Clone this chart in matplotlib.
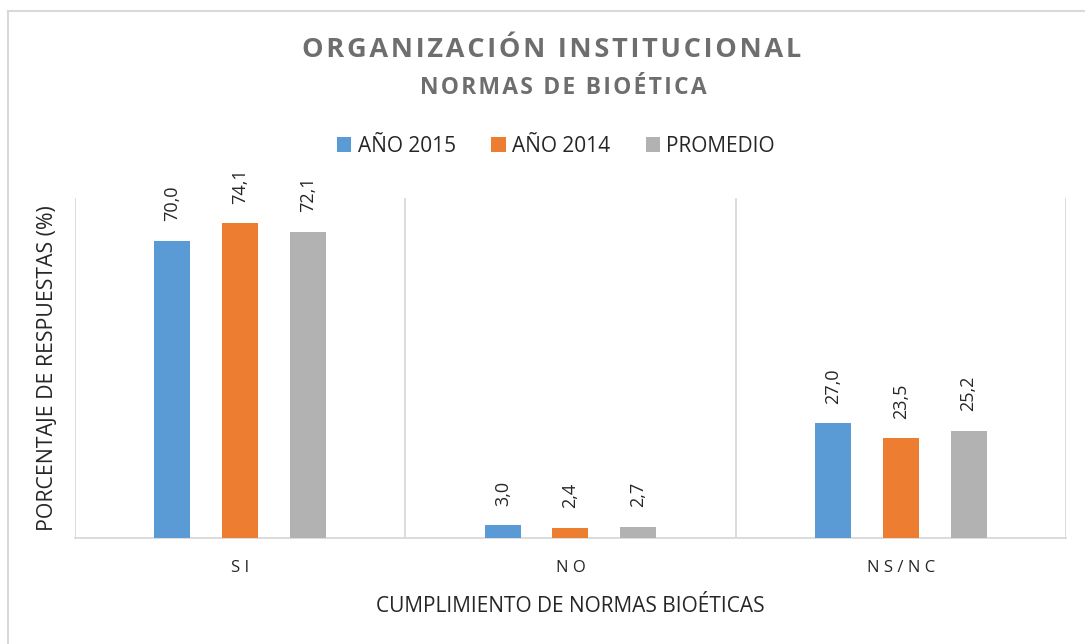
import numpy as np
import matplotlib
matplotlib.use('Agg')
import matplotlib.pyplot as plt
from matplotlib.lines import Line2D

plt.rcParams['font.family'] = ['Open Sans', 'DejaVu Sans']

categories = ['SI', 'NO', 'NS/NC']
series = ['AÑO 2015', 'AÑO 2014', 'PROMEDIO']
values_2015 = [70.0, 3.0, 27.0]
values_2014 = [74.1, 2.4, 23.5]
values_prom = [72.1, 2.7, 25.2]
colors = ['#5B9BD5', '#ED7D31', '#B2B2B2']

title1 = 'ORGANIZACIÓN INSTITUCIONAL'
title2 = 'NORMAS DE BIOÉTICA'
xlabel = 'CUMPLIMIENTO DE NORMAS BIOÉTICAS'
ylabel = 'PORCENTAJE DE RESPUESTAS (%)'


def spaced(s, sep='\u200a'):
    return sep.join(s)


fig = plt.figure(figsize=(10.85, 6.44), dpi=100)
ax = fig.add_axes([0.0691, 0.1646, 0.9134, 0.5279])

x = np.arange(len(categories))
width = 0.109
offsets = [-0.205, 0, 0.205]
all_vals = [values_2015, values_2014, values_prom]
for vals, off, col, name in zip(all_vals, offsets, colors, series):
    bars = ax.bar(x + off, vals, width, color=col, label=name, zorder=3)
    for b, v in zip(bars, vals):
        ax.annotate(f'{v:.1f}'.replace('.', ','),
                    (b.get_x() + b.get_width() / 2, b.get_height()),
                    xytext=(0, 14), textcoords='offset points',
                    rotation=90, ha='center', va='bottom',
                    fontsize=13, color='#262626')

ax.set_xlim(-0.5, 2.5)
ax.set_ylim(0, 80)
for xv in [-0.5, 0.5, 1.5, 2.5]:
    ax.axvline(xv, color='#D9D9D9', lw=1.3, zorder=1)
for s in ['top', 'right', 'left']:
    ax.spines[s].set_visible(False)
ax.spines['bottom'].set_color('#D9D9D9')
ax.spines['bottom'].set_linewidth(1.3)
ax.set_yticks([])
ax.set_xticks(x)
ax.set_xticklabels([spaced(c, ' ') for c in categories], fontsize=12, color='#262626')
ax.tick_params(axis='x', length=0, pad=16)
ax.set_xlabel(xlabel, fontsize=15, color='#262626', labelpad=14)
ax.set_ylabel(ylabel, fontsize=15.3, color='#262626', labelpad=12)

fig.text(552 / 1085, 1 - 50 / 644, spaced(title1), ha='center', va='center',
         fontsize=19.5, fontweight='bold', color='#6E6E6E')
fig.text(563 / 1085, 1 - 88 / 644, spaced(title2), ha='center', va='center',
         fontsize=16.5, fontweight='bold', color='#6E6E6E')

ax.legend(loc='center', bbox_to_anchor=(556 / 1085, 1 - 146 / 644), bbox_transform=fig.transFigure,
          ncol=3, frameon=False, fontsize=15, handlelength=0.7, handleheight=0.7,
          handletextpad=0.3, columnspacing=1.7, labelcolor='#262626')

fig.add_artist(Line2D([8 / 1085, 8 / 1085], [0, 1 - 11 / 644], color='#D9D9D9', lw=1.5))
fig.add_artist(Line2D([8 / 1085, 1], [1 - 11 / 644, 1 - 11 / 644], color='#D9D9D9', lw=1.5))

fig.savefig('out.png', dpi=100, facecolor='white')
